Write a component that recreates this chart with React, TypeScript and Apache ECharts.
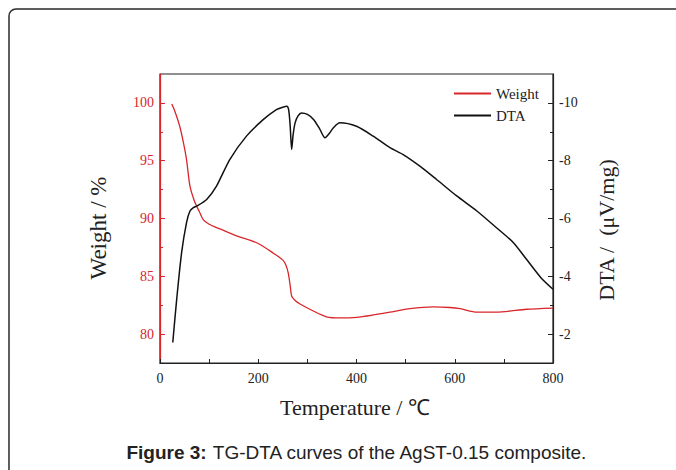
import React, { useEffect, useRef } from "react";
import * as echarts from "echarts";

const weightTemp = [24, 30, 40, 48, 54, 61, 71, 80, 88, 100, 122, 156, 197, 231, 250, 256, 261, 265, 268, 275, 285, 312, 339, 366, 400, 440, 468, 509, 556, 590, 611, 645, 685, 746, 800];
const weightValue = [99.9, 99.3, 98.0, 96.5, 95.1, 92.8, 91.4, 90.6, 89.9, 89.5, 89.1, 88.5, 87.9, 87.0, 86.4, 86.0, 85.3, 84.2, 83.3, 82.9, 82.6, 82.0, 81.5, 81.4, 81.45, 81.7, 81.9, 82.2, 82.35, 82.3, 82.2, 81.9, 81.9, 82.15, 82.25];

const dtaTemp = [26, 34, 44, 54, 61, 68, 75, 95, 115, 142, 176, 210, 237, 250, 258, 262, 265, 268, 271, 275, 281, 288, 300, 313, 325, 336, 345, 353, 366, 400, 434, 468, 495, 529, 563, 604, 645, 685, 719, 746, 775, 800];
const dtaValue = [-1.71, -3.21, -4.82, -5.86, -6.26, -6.38, -6.43, -6.66, -7.12, -8.04, -8.85, -9.42, -9.77, -9.85, -9.88, -9.75, -9.2, -8.39, -8.9, -9.31, -9.55, -9.65, -9.6, -9.42, -9.1, -8.79, -8.95, -9.14, -9.31, -9.19, -8.85, -8.45, -8.21, -7.81, -7.35, -6.78, -6.26, -5.68, -5.17, -4.59, -3.96, -3.55];

const weightTicks = [80, 85, 90, 95, 100];
const weightMinorTicks = [82.5, 87.5, 92.5, 97.5];
const dtaTicks = [-10, -8, -6, -4, -2];
const dtaMinorTicks = [-9, -7, -5, -3];

const RED = "#d8262b";
const SERIF = "Liberation Serif";

export default function App() {
  const ref = useRef<HTMLDivElement>(null);
  useEffect(() => {
    if (!ref.current) return;
    const chart = echarts.init(ref.current, undefined, { renderer: "svg" });
    const gridBase = { left: 160, right: 123, top: 74, bottom: 107 };
    chart.setOption({
      animation: false,
      backgroundColor: "#ffffff",
      grid: { ...gridBase, show: true, borderColor: "#222", borderWidth: 1.2, backgroundColor: "transparent" },
      legend: {
        orient: "vertical",
        left: 449,
        top: 81,
        itemWidth: 37,
        itemHeight: 2,
        itemGap: 7,
        icon: "rect",
        data: ["Weight", "DTA"],
        textStyle: { fontFamily: SERIF, fontSize: 15, color: "#222" },
      },
      xAxis: {
        type: "value",
        min: 0,
        max: 800,
        interval: 100,
        axisLine: { show: true, lineStyle: { color: "#222", width: 1.2 } },
        axisTick: { show: true, inside: true, length: 4, lineStyle: { color: "#222", width: 1 } },
        axisLabel: {
          margin: 8,
          fontFamily: SERIF,
          fontSize: 14,
          color: "#222",
          formatter: (v: number) => (v % 200 === 0 ? String(v) : ""),
        },
        splitLine: { show: false },
      },
      yAxis: [
        {
          type: "value",
          position: "left",
          min: 77.5,
          max: 102.5,
          axisLine: { show: true, lineStyle: { color: RED, width: 1.2 } },
          axisTick: { show: true, inside: true, length: 5, customValues: weightTicks, lineStyle: { color: RED, width: 1 } },
          axisLabel: { customValues: weightTicks, margin: 6, fontFamily: SERIF, fontSize: 14, color: RED },
          splitLine: { show: false },
        },
        {
          type: "value",
          position: "left",
          min: 77.5,
          max: 102.5,
          axisLine: { show: false },
          axisTick: { show: true, inside: true, length: 3, customValues: weightMinorTicks, lineStyle: { color: RED, width: 1 } },
          axisLabel: { show: false },
          splitLine: { show: false },
        },
        {
          type: "value",
          position: "right",
          inverse: true,
          min: -11,
          max: -1,
          axisLine: { show: true, lineStyle: { color: "#222", width: 1.2 } },
          axisTick: { show: true, inside: true, length: 5, customValues: dtaTicks, lineStyle: { color: "#222", width: 1 } },
          axisLabel: { customValues: dtaTicks, margin: 6, fontFamily: SERIF, fontSize: 14, color: "#222" },
          splitLine: { show: false },
        },
        {
          type: "value",
          position: "right",
          inverse: true,
          min: -11,
          max: -1,
          axisLine: { show: false },
          axisTick: { show: true, inside: true, length: 3, customValues: dtaMinorTicks, lineStyle: { color: "#222", width: 1 } },
          axisLabel: { show: false },
          splitLine: { show: false },
        },
      ],
      series: [
        {
          name: "Weight",
          type: "line",
          yAxisIndex: 0,
          symbol: "none",
          smooth: 0.25,
          lineStyle: { color: RED, width: 1.3 },
          itemStyle: { color: RED },
          data: weightTemp.map((t, i) => [t, weightValue[i]]),
        },
        {
          name: "DTA",
          type: "line",
          yAxisIndex: 2,
          symbol: "none",
          smooth: 0.25,
          lineStyle: { color: "#111", width: 1.5 },
          itemStyle: { color: "#111" },
          data: dtaTemp.map((t, i) => [t, dtaValue[i]]),
        },
      ],
      graphic: [
        {
          type: "rect",
          shape: { x: 9, y: 9, width: 720, height: 520, r: 7 },
          style: { fill: "none", stroke: "#2a2a2a", lineWidth: 1.5 },
          silent: true,
        },
        {
          type: "text",
          x: 98,
          y: 228,
          rotation: Math.PI / 2,
          style: { text: "Weight / %", fontFamily: SERIF, fontSize: 23, fill: "#222", align: "center", verticalAlign: "middle" },
        },
        {
          type: "text",
          x: 606,
          y: 230,
          rotation: Math.PI / 2,
          style: { text: "DTA /  (μV/mg)", fontFamily: SERIF, fontSize: 22, fill: "#222", align: "center", verticalAlign: "middle" },
        },
        {
          type: "text",
          x: 355,
          y: 407,
          style: { text: "Temperature / ℃", fontFamily: SERIF, fontSize: 22, fill: "#222", align: "center", verticalAlign: "middle" },
        },
        {
          type: "text",
          x: 357,
          y: 452,
          style: {
            text: "{b|Figure 3:} TG-DTA curves of the AgST-0.15 composite.",
            fontFamily: "Liberation Sans",
            fontSize: 19,
            fill: "#222",
            align: "center",
            verticalAlign: "middle",
            rich: { b: { fontFamily: "Liberation Sans", fontSize: 19, fontWeight: "bold", fill: "#222" } },
          },
        },
      ],
    });
    return () => chart.dispose();
  }, []);
  return <div ref={ref} style={{ position: "fixed", left: 0, top: 0, width: 676, height: 470 }} />;
}
